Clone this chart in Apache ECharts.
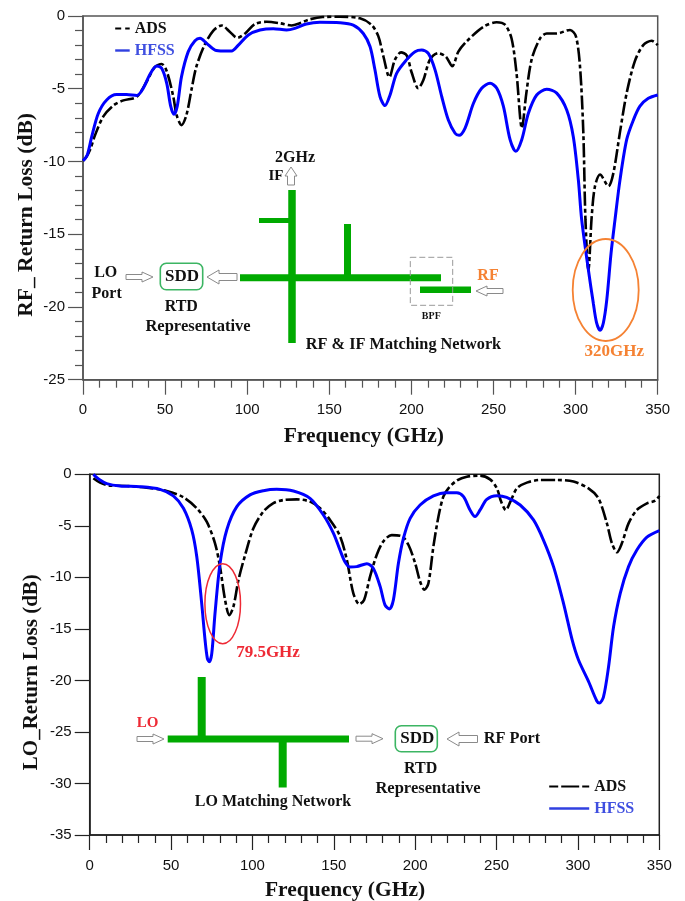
<!DOCTYPE html>
<html>
<head>
<meta charset="utf-8">
<style>html,body{margin:0;padding:0;background:#fff}#c{width:685px;height:901px}</style>
<script src="https://cdn.jsdelivr.net/npm/echarts@6/dist/echarts.min.js"></script>
</head>
<body>
<div id="c"></div>
<script>
const rfAds = [[0,-9.95],[2,-9.7],[4.3,-9.2],[7.3,-8.2],[12.4,-6.9],[18.5,-6.15],[24.6,-5.8],[32.7,-5.55],[38.8,-4.5],[43.8,-3.5],[47.9,-3.3],[51,-3.8],[55,-5.55],[57,-6.8],[60,-7.5],[63,-6.8],[66,-5.1],[69,-3.5],[74,-2],[79.4,-1],[84.5,-0.65],[89.5,-1.1],[94,-1.5],[98.7,-1.2],[104.7,-0.55],[111.9,-0.4],[120,-0.5],[127,-0.65],[132,-0.5],[138,-0.23],[146,-0.07],[156.5,-0.05],[168.7,-0.16],[175.8,-0.62],[179.9,-1.4],[183,-2.8],[186.6,-4.2],[190,-3],[193.7,-2.5],[197.1,-2.7],[200.2,-3.9],[204.2,-4.97],[207.3,-4.4],[211.3,-3],[216.4,-2.55],[221,-2.8],[224.9,-3.45],[228.6,-2.45],[233.6,-1.75],[243.8,-0.75],[251.9,-0.43],[257,-0.6],[261,-1.55],[264,-3.9],[267.3,-7.7],[270,-5.3],[273.2,-3],[278.3,-1.55],[282.4,-1.2],[288.4,-1.2],[296.6,-0.96],[300.2,-1.4],[302.7,-3.5],[304.7,-8],[306,-14],[307.8,-17.5],[309.8,-13.8],[311.8,-11.7],[314.9,-10.9],[320,-11.7],[323,-10.8],[327,-8],[331.1,-5.3],[336.1,-3.1],[341.2,-2],[346.3,-1.7],[350,-2]];
const rfHfss = [[0,-9.95],[2.6,-9.55],[5.3,-8.3],[9.3,-6.7],[14.4,-5.77],[20.5,-5.4],[26.6,-5.4],[32.7,-5.47],[36.7,-4.97],[40.8,-4],[44.9,-3.44],[47.9,-3.6],[51,-4.63],[53.4,-6.2],[55.4,-6.76],[57.4,-6.2],[60,-4.17],[64.1,-2.45],[68.2,-1.7],[71.3,-1.53],[75.3,-1.88],[80.4,-2.34],[85.5,-2.4],[90.5,-2.4],[94.6,-2],[100.7,-1.3],[107.8,-0.96],[115.9,-0.87],[124,-0.96],[129,-0.85],[136,-0.55],[144.3,-0.43],[156.5,-0.46],[164.6,-0.62],[170.7,-1.2],[174.8,-2.1],[177.8,-3.7],[180.9,-5.55],[183.9,-6.16],[187,-5.43],[191,-3.94],[197.1,-3],[202.2,-2.45],[206.3,-2.34],[210.3,-2.57],[214.4,-3.7],[218.5,-5.55],[222.5,-7.15],[226.6,-8.06],[229,-8.2],[232.7,-7.7],[237.8,-6],[242.8,-4.97],[247.9,-4.63],[252,-4.97],[256,-6.2],[260.1,-8.5],[263.6,-9.3],[267.2,-8.5],[271.2,-6.7],[276.3,-5.43],[282.4,-5.04],[288.5,-5.3],[294.6,-6.46],[298.6,-8.3],[301.7,-11.3],[303.7,-14],[307.8,-17.46],[310.8,-19.75],[312.8,-21.1],[314.9,-21.6],[316.9,-21.1],[319,-19.5],[321.6,-16.3],[324,-14],[327,-11.3],[331.1,-8.5],[335.2,-7.15],[339.2,-6.2],[344.3,-5.66],[350,-5.43]];
const loAds = [[2.25,-0.39],[6.35,-0.81],[12.5,-1.1],[22.7,-1.13],[35,-1.3],[47.3,-1.62],[57.6,-2.23],[65.8,-3.3],[71.9,-4.6],[77,-6.7],[80.1,-9],[83.2,-12.2],[85.8,-13.66],[88.3,-12.85],[91.4,-10.26],[95.5,-7.83],[100.6,-5.24],[106.7,-3.62],[112.9,-2.8],[119,-2.5],[127.2,-2.43],[135.4,-2.65],[141.6,-3.3],[147.7,-4.43],[153.8,-6],[158,-8.3],[162,-11.55],[165.7,-12.6],[168.6,-12.2],[172.3,-9.9],[176.4,-7.8],[180.5,-6.5],[185.6,-5.9],[191.7,-6],[195.9,-6.86],[200,-8.64],[203,-10.4],[205.7,-11.2],[208.1,-10.6],[211.2,-7],[214.3,-4.1],[217.3,-2.17],[220.4,-1.36],[225.6,-0.61],[231.7,-0.23],[239.9,-0.13],[246,-0.49],[250.2,-1.36],[252.8,-2.65],[255.7,-3.46],[258.5,-2.65],[262.5,-1.36],[268.6,-0.81],[276.8,-0.55],[287.1,-0.55],[297.3,-0.71],[306.5,-1.36],[312.6,-2.33],[317.8,-4.76],[320.9,-6.7],[324,-7.57],[327,-6.7],[331.1,-4.76],[336.2,-3.46],[342.4,-2.82],[347.5,-2.56],[350,-2.1]];
const loHfss = [[2.25,0],[6.35,-0.55],[10.45,-0.9],[18.6,-1.13],[30.9,-1.2],[43.2,-1.46],[51.4,-2.1],[57.6,-3.3],[62.7,-5.4],[65.8,-8],[68.8,-12.5],[70.9,-16.1],[72.3,-17.86],[73.5,-18.2],[75,-17.4],[77,-13.5],[80.1,-8.64],[84.2,-5.4],[90.4,-3.14],[98.5,-2],[106.7,-1.6],[114.9,-1.46],[125.2,-1.62],[135.4,-2.33],[143.6,-3.95],[149.8,-5.73],[153.8,-7.35],[156.9,-8.5],[160,-9],[164.1,-8.96],[170.3,-8.67],[174.3,-9.13],[178.5,-10.9],[181.5,-12.7],[184.2,-13.07],[186.6,-12.2],[189.7,-8.64],[192.8,-6.2],[196.9,-4.27],[203,-2.98],[211.2,-2.1],[219.4,-1.78],[225.6,-1.78],[229.7,-2.17],[233.7,-3.46],[236.8,-4.1],[239.9,-3.46],[244,-2.43],[250.2,-2.07],[256.2,-2.23],[264.5,-2.98],[272.7,-4.43],[278.8,-6.38],[285,-8.96],[291.1,-12.5],[296.5,-16.1],[300.3,-18],[306.5,-20.1],[311.6,-22],[313.2,-22.2],[315.7,-21.6],[318.8,-18.7],[321.9,-14.8],[326,-11.55],[331.1,-8.96],[336.2,-7.35],[342.4,-6.1],[350,-5.47]];

const SERIF = '"Liberation Serif"';
const SANS = '"Liberation Sans"';
const GREEN = '#00aa00', ORANGE = '#f58233', RED = '#ee2a35', BOX = '#3cb563', ARROW = '#8a8a8a';

function txt(s, x, y, size, color) {
  return {type:'text', z:50, style:{text:s, x:x, y:y, align:'center', verticalAlign:'middle',
    font:'bold '+size+'px '+SERIF, fill:color||'#111'}};
}
function bar(x1,y1,x2,y2,w) {
  return {type:'line', z:40, shape:{x1,y1,x2,y2}, style:{stroke:GREEN, lineWidth:w, lineCap:'butt'}};
}
// hollow block arrow from (x1,y1) to the tip at (x2,y2), horizontal or vertical
function arrow(x1,y1,x2,y2,b,h,hl) {
  let pts;
  if (y1===y2) { const d=Math.sign(x2-x1), n=x2-d*hl;
    pts=[[x1,y1-b],[n,y1-b],[n,y1-h],[x2,y1],[n,y1+h],[n,y1+b],[x1,y1+b]];
  } else { const d=Math.sign(y2-y1), n=y2-d*hl;
    pts=[[x1-b,y1],[x1-b,n],[x1-h,n],[x1,y2],[x1+h,n],[x1+b,n],[x1+b,y1]];
  }
  return {type:'polygon', z:40, shape:{points:pts}, style:{fill:'#fff', stroke:ARROW, lineWidth:1}};
}
function box(x,y,w,h) {
  return {type:'rect', z:40, shape:{x,y,width:w,height:h,r:6}, style:{fill:'none', stroke:BOX, lineWidth:1.6}};
}
function ring(cx,cy,rx,ry,color,w) {
  return {type:'ellipse', z:45, shape:{cx,cy,rx,ry}, style:{fill:'none', stroke:color, lineWidth:w}};
}

const annotations = [
  // upper panel
  bar(292,190,292,343,7.5), bar(259,220.5,292,220.5,5), bar(240,277.7,441,277.7,7),
  bar(347.5,224,347.5,278,7), bar(420,289.7,471,289.7,6.5),
  arrow(291,185,291,167,3.5,6,9),
  txt('2GHz',295,158,16), txt('IF',276,176,15),
  {type:'rect', z:41, shape:{x:410.3,y:257.3,width:42.4,height:48}, style:{fill:'none', stroke:'#999', lineWidth:1, lineDash:[6,3]}},
  txt('BPF',431.3,316.7,10), txt('RF',488,275.7,16,ORANGE),
  arrow(503,291,476,291,2.5,5,11),
  ring(605.7,290,33,51,ORANGE,1.8), txt('320GHz',614.3,351.7,17,ORANGE),
  txt('RF & IF Matching Network',403.5,345,16.3),
  txt('LO',105.7,273,16), txt('Port',106.7,294,16),
  arrow(126,277,153,277,2.5,5,11),
  box(160.3,263.3,42.4,26.4), txt('SDD',182,276.7,17),
  arrow(237,277,207,277,3.5,7,12),
  txt('RTD',181.3,307,16), txt('Representative',198,326.7,16.5),
  // lower panel
  bar(167.7,739,349,739,7), bar(201.7,677,201.7,739,8), bar(282.7,739,282.7,787.5,8),
  txt('LO',147.7,723.3,15,RED), arrow(137,739,164,739,2.5,5,11),
  txt('LO Matching Network',273,801.7,16),
  arrow(356,738.7,383,738.7,2.5,5,11),
  box(395.3,725.7,42,26), txt('SDD',417.3,739,17),
  arrow(477.5,739,447,739,3.5,7,12), txt('RF Port',512,739,16.3),
  txt('RTD',420.7,769,16), txt('Representative',428,788.3,16.5),
  ring(222.7,603.7,17.8,40,RED,1.5), txt('79.5GHz',268,652.3,17,RED)
];

function xAx(i, gap, shift) {
  return {type:'value', gridIndex:i, min:0, max:350, interval:50, position:'bottom',
    name:'Frequency (GHz)', nameLocation:'middle', nameGap:gap, nameMoveOverlap:false,
    nameTextStyle:{fontFamily:SERIF, fontWeight:'bold', fontSize:21.5, color:'#111', padding:[0,shift,0,0]},
    axisLine:{onZero:false, lineStyle:{color:i?'#222':'#555', width:1.5}},
    axisTick:{show:true, length:15, lineStyle:{color:i?'#222':'#555', width:1.2}},
    minorTick:{show:true, splitNumber:5, length:8, lineStyle:{color:i?'#222':'#555', width:1.2}},
    splitLine:{show:false}, minorSplitLine:{show:false},
    axisLabel:{margin:23, fontFamily:SANS, fontSize:15, color:'#111', showMinLabel:true, showMaxLabel:true}};
}
function yAx(i, min, gap, title, minor, size, shift) {
  return {type:'value', gridIndex:i, min:min, max:0, interval:5,
    name:title, nameLocation:'middle', nameGap:gap, nameMoveOverlap:false,
    nameTextStyle:{fontFamily:SERIF, fontWeight:'bold', fontSize:size, color:'#111', padding:[0,shift,0,0]},
    axisLine:{show:true, lineStyle:{color:i?'#222':'#555', width:1.5}},
    axisTick:{show:true, length:15, lineStyle:{color:i?'#222':'#555', width:1.2}},
    minorTick:{show:minor, splitNumber:5, length:8, lineStyle:{color:i?'#222':'#555', width:1.2}},
    splitLine:{show:false}, minorSplitLine:{show:false},
    axisLabel:{margin:18, fontFamily:SANS, fontSize:15, color:'#111'}};
}
function ln(name, data, i, color, w, type) {
  return {type:'line', name, data, xAxisIndex:i, yAxisIndex:i, symbol:'none', showSymbol:false,
    smooth:0.3, clip:true, z: color==='#000000'?2:3,
    lineStyle:{color, width:w, type}, itemStyle:{color}, emphasis:{disabled:true}};
}
function legendAt(left, top, w, dash) {
  return {left, top, orient:'vertical', itemWidth:w, itemHeight:14, itemGap:6, selectedMode:false,
    data:[{name:'ADS', itemStyle:{opacity:0}, lineStyle:{type:dash, width:2, color:'#000'}, textStyle:{color:'#111'}},
          {name:'HFSS', itemStyle:{opacity:0}, lineStyle:{type:'solid', width:2.4, color:'#3040e0'}, textStyle:{color:'#3f4fe0'}}],
    textStyle:{fontFamily:SERIF, fontWeight:'bold', fontSize:16, padding:0}};
}

const chart = echarts.init(document.getElementById('c'), null, {renderer:'canvas', width:685, height:901});
chart.setOption({
  animation:false, backgroundColor:'#fff',
  grid:[
    {left:83, top:16, width:574.7, height:363.7, outerBoundsMode:'none', show:true, borderColor:'#555', borderWidth:1.5, backgroundColor:'transparent'},
    {left:89.7, top:474.3, width:569.6, height:360.7, outerBoundsMode:'none', show:true, borderColor:'#222', borderWidth:1.5, backgroundColor:'transparent'}
  ],
  xAxis:[xAx(0,46,13), xAx(1,44,59)],
  yAxis:[yAx(0,-25,46,'RF_ Return Loss (dB)',true,21.5,34), yAx(1,-35,48,'LO_Return Loss (dB)',false,21,35)],
  legend:[legendAt(109,15.5,14.5,[6,4]), legendAt(543,773.5,40,[9,3,18,3,9,3])],
  series:[
    ln('ADS',rfAds,0,'#000000',2.6,[14,3,4,3]),
    ln('HFSS',rfHfss,0,'#0000ff',3,'solid'),
    ln('ADS',loAds,1,'#000000',2.6,[14,3,4,3]),
    ln('HFSS',loHfss,1,'#0000ff',3,'solid')
  ],
  graphic:annotations
});
</script>
</body>
</html>
